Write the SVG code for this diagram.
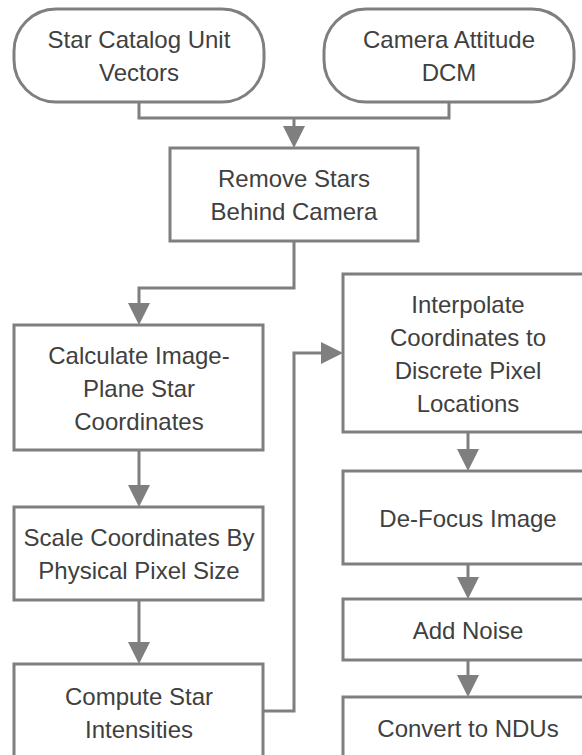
<svg xmlns="http://www.w3.org/2000/svg" width="582" height="755" viewBox="0 0 582 755">
<style>
.shape{fill:#ffffff;stroke:#7f7f7f;stroke-width:3}
.conn{fill:none;stroke:#7f7f7f;stroke-width:3}
text{font-family:"Liberation Sans",Arial,sans-serif;font-size:24px;fill:#404040;text-anchor:middle}
</style>
<defs>
<marker id="arrow" markerUnits="userSpaceOnUse" markerWidth="22" markerHeight="22" viewBox="0 0 22 22" refX="18" refY="11" orient="auto">
<path d="M0,0 L22,11 L0,22 z" fill="#7f7f7f"/>
</marker>
</defs>
<rect width="582" height="755" fill="#ffffff"/>
<g id="connectors">
<path class="conn" d="M139,102 V118 H449 V102"/>
<path class="conn" d="M294,118 V144" marker-end="url(#arrow)"/>
<path class="conn" d="M294,241 V288 H139 V321" marker-end="url(#arrow)"/>
<path class="conn" d="M139,450 V503" marker-end="url(#arrow)"/>
<path class="conn" d="M139,600 V660" marker-end="url(#arrow)"/>
<path class="conn" d="M263,711 H294 V353 H339" marker-end="url(#arrow)"/>
<path class="conn" d="M468,432 V467" marker-end="url(#arrow)"/>
<path class="conn" d="M468,564 V595" marker-end="url(#arrow)"/>
<path class="conn" d="M468,660 V693" marker-end="url(#arrow)"/>
</g>
<g id="star-catalog">
<rect class="shape" x="14" y="9" width="250" height="93" rx="42" ry="42"/>
<text x="139" y="48">Star Catalog Unit</text>
<text x="139" y="81">Vectors</text>
</g>
<g id="camera-attitude">
<rect class="shape" x="324" y="9" width="250" height="93" rx="42" ry="42"/>
<text x="449" y="48">Camera Attitude</text>
<text x="449" y="81">DCM</text>
</g>
<g id="remove-stars">
<rect class="shape" x="170" y="148" width="248" height="93"/>
<text x="294" y="187">Remove Stars</text>
<text x="294" y="220">Behind Camera</text>
</g>
<g id="calculate-coords">
<rect class="shape" x="14" y="325" width="249" height="125"/>
<text x="139" y="364">Calculate Image-</text>
<text x="139" y="397">Plane Star</text>
<text x="139" y="430">Coordinates</text>
</g>
<g id="scale-coords">
<rect class="shape" x="14" y="507" width="249" height="93"/>
<text x="139" y="546">Scale Coordinates By</text>
<text x="139" y="579">Physical Pixel Size</text>
</g>
<g id="compute-intensities">
<rect class="shape" x="14" y="664" width="249" height="96"/>
<text x="139" y="705">Compute Star</text>
<text x="139" y="738">Intensities</text>
</g>
<g id="interpolate">
<rect class="shape" x="343" y="274" width="250" height="158"/>
<text x="468" y="313">Interpolate</text>
<text x="468" y="346">Coordinates to</text>
<text x="468" y="379">Discrete Pixel</text>
<text x="468" y="412">Locations</text>
</g>
<g id="defocus">
<rect class="shape" x="343" y="471" width="250" height="93"/>
<text x="468" y="527">De-Focus Image</text>
</g>
<g id="add-noise">
<rect class="shape" x="343" y="599" width="250" height="61"/>
<text x="468" y="639">Add Noise</text>
</g>
<g id="convert-ndus">
<rect class="shape" x="343" y="697" width="250" height="63"/>
<text x="468" y="737">Convert to NDUs</text>
</g>
</svg>
